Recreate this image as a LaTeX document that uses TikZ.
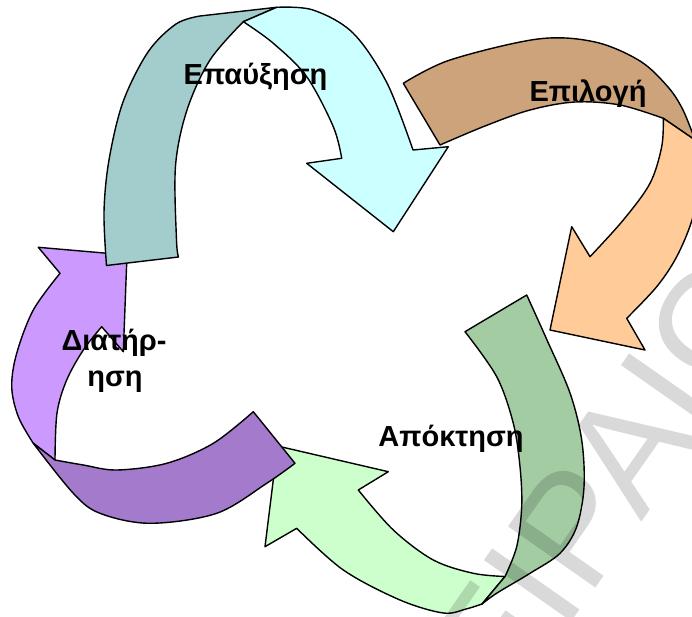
\documentclass[tikz,border=0pt]{standalone}
\usepackage{fontspec}
\setmainfont{Liberation Sans}
\definecolor{tealBack}{HTML}{A3CCCC}
\definecolor{cyanFront}{HTML}{CCFFFF}
\definecolor{tanBack}{HTML}{CCA37A}
\definecolor{peachFront}{HTML}{FFCC99}
\definecolor{greenBack}{HTML}{A3CCA3}
\definecolor{greenFront}{HTML}{CCFFCC}
\definecolor{violetBack}{HTML}{A37ACC}
\definecolor{violetFront}{HTML}{CC99FF}
\tikzset{
  band/.style={draw=black, line width=1.4pt, line join=round},
  curve/.style={smooth, tension=0.55},
  stagetext/.style={font=\bfseries\fontsize{29}{34}\selectfont, inner sep=0pt, anchor=base},
  wmark/.style={font=\fontsize{155}{155}\selectfont, text=black, text opacity=0.15, inner sep=0pt},
}
\begin{document}
\begin{tikzpicture}[x=1pt,y=-1pt]
\useasboundingbox (0,0) rectangle (692,617);
\begin{scope}
\clip (0,0) rectangle (692,617);

% light green head (Απόκτηση)
\path[band, fill=greenFront] (265,546.7) -- (296.7,528.3)
  -- plot[curve] coordinates {(296.7,528.3) (343.3,570) (400,600) (443.3,613) (466,609) (482,604)}
  -- (505,576.5)
  -- plot[curve] coordinates {(505,576.5) (473.3,573.3) (433.3,560) (393.3,530) (358.3,490)}
  -- (388.3,471.7) -- (277.5,446) -- cycle;

% light violet head (Διατήρηση)
\path[band, fill=violetFront] (38.3,247.3) -- (127,255) -- (123.3,351.7) -- (101.7,326.7)
  -- plot[curve] coordinates {(101.7,326.7) (83.3,350) (66.7,380) (57,413) (55,460)}
  -- (33.3,443.3)
  -- plot[curve] coordinates {(33.3,443.3) (18.3,416.7) (11.7,386.7) (16.7,353.3) (33.3,310) (60,273.3)}
  -- cycle;

% dark violet tail
\path[band, fill=violetBack] (253.3,411.7) -- (295,463.3)
  -- plot[curve] coordinates {(295,463.3) (266.7,483.3) (216.7,513.3) (150,523.3) (100,513.3) (73.3,493.3) (33.3,443.3)}
  -- (55,460)
  -- plot[curve] coordinates {(55,460) (83.3,465) (116.7,470) (166.7,463.3) (213.3,443.3) (253.3,411.7)}
  -- cycle;

% teal tail (Επαύξηση)
\path[band, fill=tealBack] (106.5,265.5)
  -- plot[curve] coordinates {(106.5,265.5) (104,212) (109,160) (123,102) (148,52) (176,24) (200,16)}
  -- (276.7,7.3) -- (243.3,21.7)
  -- plot[curve] coordinates {(243.3,21.7) (210,60) (187,110) (175.5,166) (176.5,240) (178.5,257)}
  -- cycle;

% cyan head
\path[band, fill=cyanFront] (243.3,21.7) -- (276.7,7.3)
  -- plot[curve] coordinates {(276.7,7.3) (313,10) (353,33) (387,83) (413,150)}
  -- (448.3,146.7) -- (393.3,231.7) -- (306.7,163.3) -- (341.7,158.3)
  -- plot[curve] coordinates {(341.7,158.3) (333.3,126.7) (306.7,76.7) (273.3,43.3) (243.3,21.7)}
  -- cycle;

% tan tail (Επιλογή)
\path[band, fill=tanBack] (403.3,83.3)
  -- plot[curve] coordinates {(403.3,83.3) (450,60) (538,39) (595,42) (640,61) (668,87) (683,110) (695,140)}
  -- (663.3,118.3)
  -- plot[curve] coordinates {(663.3,118.3) (620,105) (575,102) (530,110) (485,126) (440,145)}
  -- cycle;

% peach head
\path[band, fill=peachFront] (663.3,118.3) -- (695,140)
  -- plot[curve] coordinates {(695,140) (700,180) (692,220) (676.7,256.7) (656.7,286.7) (626.7,318.3)}
  -- (645,350) -- (550,330) -- (571.7,226.7) -- (590,256.7)
  -- plot[curve] coordinates {(590,256.7) (623.3,220) (650,183.3) (661.7,146.7) (663.3,118.3)}
  -- cycle;

% dark green tail
\path[band, fill=greenBack] (465,331.7) -- (526.7,295)
  -- plot[curve] coordinates {(526.7,295) (547,340) (570,393) (581.7,440) (584,487) (576.7,526.7) (560,553.3) (530,573.3) (497,593) (482,604)}
  -- (505,576.5)
  -- plot[curve] coordinates {(505,576.5) (516.7,546.7) (521.7,506.7) (520,466.7) (513.3,423.3) (496.7,376.7) (465,331.7)}
  -- cycle;

% stage names
\node[stagetext] (epauxisi) at (255.5,85) {Επαύξηση};
\node[stagetext] (epilogi) at (588,101.7) {Επιλογή};
\node[stagetext] (apoktisi) at (451,446.7) {Απόκτηση};
\node[stagetext] (diatirisiA) at (114,350) {Διατήρ-};
\node[stagetext] (diatirisiB) at (115,386) {ηση};

% faint watermark across the lower right
\node[wmark, rotate=55, anchor=base west] (watermark) at (440,810) {ΠΕΙΡΑΙΩΣ};
\end{scope}
\end{tikzpicture}
\end{document}
